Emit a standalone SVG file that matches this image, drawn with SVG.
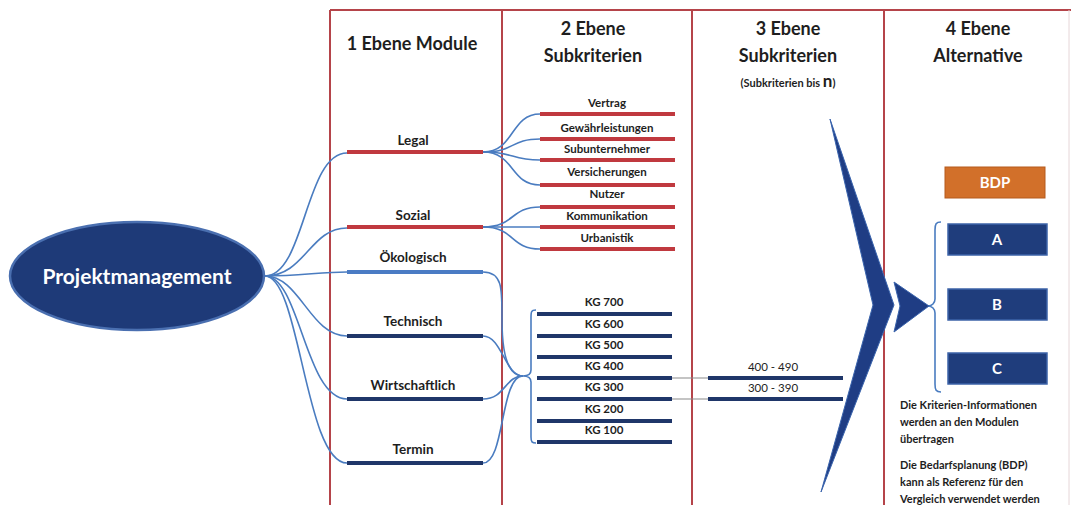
<svg xmlns="http://www.w3.org/2000/svg" width="1071" height="505" viewBox="0 0 1071 505">
  <defs>
    <style>
      .frame { stroke: #b5444a; stroke-width: 2; fill: none; }
      .hdr { font-family: Lato, "Open Sans", sans-serif; font-weight: bold; font-size: 18px; fill: #1e1e1e; text-anchor: middle; }
      .mod { font-family: Lato, "Open Sans", sans-serif; font-weight: bold; font-size: 13.5px; fill: #1e1e1e; text-anchor: middle; }
      .sub { font-family: Lato, "Open Sans", sans-serif; font-weight: bold; font-size: 11.5px; fill: #1e1e1e; text-anchor: middle; }
      .note { font-family: Lato, "Open Sans", sans-serif; font-weight: bold; font-size: 11px; fill: #1e1e1e; }
      .red { stroke: #c0393f; stroke-width: 4; fill: none; }
      .navy { stroke: #1f3669; stroke-width: 4; fill: none; }
      .lblue { stroke: #4a7bc4; stroke-width: 4; fill: none; }
      .link { stroke: #4a7cc0; stroke-width: 1.6; fill: none; }
      .grey { stroke: #8a8a8a; stroke-width: 1.2; fill: none; }
      .box { fill: #1f3d7c; stroke: #3d63a8; stroke-width: 1.5; }
      .boxtxt { font-family: Lato, "Open Sans", sans-serif; font-weight: bold; font-size: 15px; fill: #fff; text-anchor: middle; }
    </style>
  </defs>
  <rect width="1071" height="505" fill="#fff"/>

  <!-- level frame -->
  <g id="frame">
    <path class="frame" d="M330,10 H1071 M330,10 V505 M502,10 V505 M692,10 V505 M884,10 V505"/>
    <path d="M1069,10 V505" stroke="#e6d6d8" stroke-width="1"/>
  </g>

  <!-- column headings -->
  <g id="headers">
    <text class="hdr" x="412" y="50">1 Ebene Module</text>
    <text class="hdr" x="593" y="35">2 Ebene</text>
    <text class="hdr" x="593" y="62">Subkriterien</text>
    <text class="hdr" x="788" y="35">3 Ebene</text>
    <text class="hdr" x="788" y="62">Subkriterien</text>
    <text class="sub" x="788" y="87" style="font-size:11px">(Subkriterien bis <tspan style="font-size:17px">n</tspan>)</text>
    <text class="hdr" x="978" y="35">4 Ebene</text>
    <text class="hdr" x="978" y="62">Alternative</text>
  </g>

  <!-- connectors -->
  <g id="connectors">
    <!-- root to modules -->
    <path class="link" d="M265,276 C305,276 305,153 347,153"/>
    <path class="link" d="M265,276 C305,276 310,228 347,228"/>
    <path class="link" d="M265,276 C300,276 320,272 347,272"/>
    <path class="link" d="M265,276 C300,276 310,336 347,336"/>
    <path class="link" d="M265,276 C300,276 305,399 347,399"/>
    <path class="link" d="M265,276 C300,276 305,463 347,463"/>
    <!-- Legal to subcriteria -->
    <path class="link" d="M483,152 C515,152 510,114 540,114"/>
    <path class="link" d="M483,152 C515,152 510,139 540,139"/>
    <path class="link" d="M483,152 C515,152 510,160 540,160"/>
    <path class="link" d="M483,152 C515,152 510,185 540,185"/>
    <!-- Sozial to subcriteria -->
    <path class="link" d="M483,227 C515,227 510,207 540,207"/>
    <path class="link" d="M483,227 C515,227 510,227 540,227"/>
    <path class="link" d="M483,227 C515,227 510,249 540,249"/>
    <!-- technical / economic modules to cost groups -->
    <path class="link" d="M483,272 C503,272 502,290 502,320 C502,360 510,376 523,376"/>
    <path class="link" d="M483,336 C502,336 505,376 523,376"/>
    <path class="link" d="M483,399 C505,399 505,376 523,376"/>
    <path class="link" d="M483,463 C505,463 500,376 523,376"/>
    <!-- cost group brace -->
    <path class="link" d="M536,310 C531,310 531,312 531,318 V370 C531,374 528,376 523,376 C528,376 531,378 531,382 V437 C531,442 532,443 536,443" stroke-width="2.2"/>
    <!-- cost groups to level 3 -->
    <path class="grey" d="M640,378 H708 M640,399 H708"/>
    <!-- alternatives brace -->
    <path class="link" d="M941,222 C936,222 935,224 935,230 V299 C935,303 932,306 928,306 C932,306 935,309 935,313 V384 C935,390 936,392 941,392" stroke-width="2"/>
  </g>

  <!-- root node -->
  <g id="projektmanagement">
    <ellipse cx="137" cy="276" rx="127" ry="54" fill="#1e3a78" stroke="#4a6fb0" stroke-width="2.5"/>
    <text x="137" y="284" style="font-family:Lato,'Open Sans',sans-serif;font-weight:bold;font-size:21px;fill:#fff;text-anchor:middle">Projektmanagement</text>
  </g>

  <!-- level 1 modules -->
  <g id="legal">
    <path class="red" d="M347,152 H483"/>
    <text class="mod" x="413" y="145">Legal</text>
  </g>
  <g id="sozial">
    <path class="red" d="M347,227 H483"/>
    <text class="mod" x="413" y="220">Sozial</text>
  </g>
  <g id="oekologisch">
    <path class="lblue" d="M347,272 H483"/>
    <text class="mod" x="413" y="262">Ökologisch</text>
  </g>
  <g id="technisch">
    <path class="navy" d="M347,336 H483"/>
    <text class="mod" x="413" y="326">Technisch</text>
  </g>
  <g id="wirtschaftlich">
    <path class="navy" d="M347,399 H483"/>
    <text class="mod" x="413" y="390">Wirtschaftlich</text>
  </g>
  <g id="termin">
    <path class="navy" d="M347,463 H483"/>
    <text class="mod" x="413" y="454">Termin</text>
  </g>

  <!-- level 2 subcriteria -->
  <g id="vertrag"><path class="red" d="M540,114 H675"/><text class="sub" x="607" y="107">Vertrag</text></g>
  <g id="gewaehrleistungen"><path class="red" d="M540,139 H675"/><text class="sub" x="607" y="132">Gewährleistungen</text></g>
  <g id="subunternehmer"><path class="red" d="M540,160 H675"/><text class="sub" x="607" y="153">Subunternehmer</text></g>
  <g id="versicherungen"><path class="red" d="M540,185 H675"/><text class="sub" x="607" y="176">Versicherungen</text></g>
  <g id="nutzer"><path class="red" d="M540,207 H675"/><text class="sub" x="607" y="198">Nutzer</text></g>
  <g id="kommunikation"><path class="red" d="M540,227 H675"/><text class="sub" x="607" y="220">Kommunikation</text></g>
  <g id="urbanistik"><path class="red" d="M540,249 H675"/><text class="sub" x="607" y="242">Urbanistik</text></g>

  <g id="kg700"><path class="navy" d="M537,314 H672"/><text class="sub" x="604" y="306">KG 700</text></g>
  <g id="kg600"><path class="navy" d="M537,336 H672"/><text class="sub" x="604" y="328">KG 600</text></g>
  <g id="kg500"><path class="navy" d="M537,357 H672"/><text class="sub" x="604" y="349">KG 500</text></g>
  <g id="kg400"><path class="navy" d="M537,378 H672"/><text class="sub" x="604" y="370">KG 400</text></g>
  <g id="kg300"><path class="navy" d="M537,399 H672"/><text class="sub" x="604" y="391">KG 300</text></g>
  <g id="kg200"><path class="navy" d="M537,421 H672"/><text class="sub" x="604" y="413">KG 200</text></g>
  <g id="kg100"><path class="navy" d="M537,442 H672"/><text class="sub" x="604" y="434">KG 100</text></g>

  <!-- level 3 subcriteria -->
  <g id="kg400-490"><path class="navy" d="M708,378 H843"/><text class="sub" x="773" y="371" style="font-weight:normal">400 - 490</text></g>
  <g id="kg300-390"><path class="navy" d="M708,399 H843"/><text class="sub" x="773" y="392" style="font-weight:normal">300 - 390</text></g>

  <!-- funnel into the alternatives -->
  <g id="chevron">
    <polygon points="830,119 894,305 821,492 873,305" fill="#1f3d84" stroke="#3a64ad" stroke-width="1"/>
    <polygon points="894,282 929,306 894,332 900,306" fill="#1f3d84" stroke="#3a64ad" stroke-width="1"/>
  </g>

  <!-- level 4 alternatives -->
  <g id="bdp">
    <rect x="945" y="167" width="100" height="31" fill="#d2702a" stroke="#b55a1c" stroke-width="1"/>
    <text class="boxtxt" x="995" y="188">BDP</text>
  </g>
  <g id="alt-a">
    <rect class="box" x="948" y="224" width="99" height="31"/>
    <text class="boxtxt" x="997" y="245">A</text>
  </g>
  <g id="alt-b">
    <rect class="box" x="948" y="289" width="99" height="31"/>
    <text class="boxtxt" x="997" y="310">B</text>
  </g>
  <g id="alt-c">
    <rect class="box" x="948" y="353" width="99" height="31"/>
    <text class="boxtxt" x="997" y="374">C</text>
  </g>

  <!-- notes -->
  <g id="notes">
    <text class="note" x="900" y="409">Die Kriterien-Informationen</text>
    <text class="note" x="900" y="426">werden an den Modulen</text>
    <text class="note" x="900" y="443">übertragen</text>
    <text class="note" x="900" y="469">Die Bedarfsplanung  (BDP)</text>
    <text class="note" x="900" y="486">kann als Referenz für den</text>
    <text class="note" x="900" y="503">Vergleich verwendet werden</text>
  </g>
</svg>
